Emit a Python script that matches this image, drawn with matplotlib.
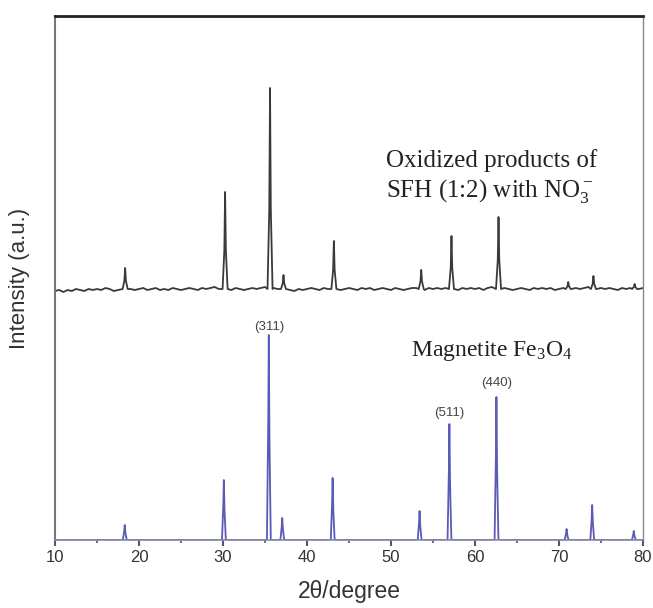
import numpy as np
import matplotlib
matplotlib.use("Agg")
import matplotlib.pyplot as plt

plt.rcParams['font.family'] = ['Liberation Sans', 'DejaVu Sans']
plt.rcParams['mathtext.fontset'] = 'custom'
plt.rcParams['mathtext.rm'] = 'Liberation Serif'
plt.rcParams['mathtext.it'] = 'Liberation Serif:italic'

# ---------------- data ----------------
# measured pattern (oxidized products), baseline level and noise read every 0.5 deg
sample_base_level = 251
sample_base_x = [10 + 0.5 * i for i in range(141)]
sample_base_noise = [
    -2, -1, -3, -1, -2, 0, -1, -2, 0, -1,
    0, -1, 1, 0, -2, -1, 0, 1, 0, -1,
    0, 1, -1, 0, 1, -1, 0, -1, 1, 0,
    -1, 0, 1, 0, -1, 1, 0, 1, 2, 0,
    1, 0, -1, 1, 0, -1, 0, 1, 0, 1,
    2, 3, 1, 0, -1, 0, -1, -2, 0, -1,
    0, 1, 0, -1, 1, 0, 1, 0, -1, 0,
    1, 0, -1, 1, 0, 1, -1, 0, 1, 0,
    -1, 1, 0, -1, 0, 1, 1, 0, -1, 1,
    0, 1, 0, 1, 0, 0, -1, 1, 0, 1,
    0, 1, -1, 1, 2, 1, 0, 1, 0, -1,
    0, 1, 0, -1, 1, 0, 1, 0, 1, -1,
    0, 1, 2, 0, 1, 0, 1, 2, 1, 0,
    1, 0, 1, 0, -1, 1, 0, 1, 2, 0,
    1,
]
sample_peak_pos = [18.35, 30.25, 35.6, 37.2, 43.2, 53.6, 57.2, 62.8, 71.1, 74.1, 79.0]
sample_peak_top = [272, 348, 452, 265, 299, 270, 304, 323, 258, 264, 256]

# reference magnetite pattern
ref_peak_pos = [18.3, 30.1, 35.45, 37.05, 43.05, 53.4, 56.95, 62.55, 70.9, 73.95, 78.9]
ref_peak_height = [15, 60, 205, 22, 62, 29, 116, 143, 11, 35, 9]

hkl_labels = ['(311)', '(511)', '(440)']
hkl_pos = [35.45, 56.95, 62.55]
hkl_y = [213, 127, 157]

x_ticks = [10, 20, 30, 40, 50, 60, 70, 80]

# ---------------- build traces ----------------
hw = 0.3
bx, by = [], []
for x, n in zip(sample_base_x, sample_base_noise):
    if all(abs(x - p) > hw + 0.05 for p in sample_peak_pos):
        bx.append(x)
        by.append(sample_base_level + n)
for p, t in zip(sample_peak_pos, sample_peak_top):
    bx += [p - hw, p - 0.09, p, p + 0.09, p + hw]
    by += [sample_base_level, sample_base_level + 0.4 * (t - sample_base_level), t,
           sample_base_level + 0.4 * (t - sample_base_level), sample_base_level]
order = np.argsort(bx)
bx = np.array(bx)[order]
by = np.array(by)[order]

rx, ry = [10.0], [0.0]
for p, h in zip(ref_peak_pos, ref_peak_height):
    rx += [p - 0.22, p - 0.06, p, p + 0.08, p + 0.14, p + 0.24]
    ry += [0, 0.6 * h, h, 0.5 * h, 0.3 * h, 0]
rx.append(80.0)
ry.append(0.0)

# ---------------- figure ----------------
fig = plt.figure(figsize=(6.53, 6.08), dpi=100)
ax = fig.add_axes([55 / 653, 68 / 608, 588 / 653, 524 / 608])

ax.plot(bx, by, color='#3a3a3a', lw=1.3)
ax.plot(rx, ry, color='#5a5ab8', lw=1.3)

ax.set_xlim(10, 80)
ax.set_ylim(0, 524)
ax.set_xticks(x_ticks)
ax.set_xticks([15, 25, 35, 45, 55, 65, 75], minor=True)
ax.set_yticks([])
ax.tick_params(axis='x', which='major', direction='out', length=4, width=1.5,
               color='#555577', labelsize=12, labelcolor='#333333', pad=3)
ax.tick_params(axis='x', which='minor', direction='out', length=2, width=1.2,
               color='#555577')

ax.spines['top'].set_linewidth(2.0)
ax.spines['top'].set_color('#222222')
ax.spines['left'].set_linewidth(1.5)
ax.spines['left'].set_color('#777777')
ax.spines['right'].set_linewidth(1.0)
ax.spines['right'].set_color('#888888')
ax.spines['bottom'].set_linewidth(1.2)
ax.spines['bottom'].set_color('#8888aa')

ax.set_xlabel('2θ/degree', fontsize=16.5, color='#333333', labelpad=11)
ax.set_ylabel('Intensity (a.u.)', fontsize=16, color='#333333')
ax.yaxis.set_label_coords(-0.043, 0.5)

serif = ['Liberation Serif', 'DejaVu Serif']
ax.text(49.4, 373, 'Oxidized products of', fontsize=18, family=serif,
        ha='left', va='baseline', color='#222222')
ax.text(49.4, 343, 'SFH (1:2) with NO$_3^-$', fontsize=18, family=serif,
        ha='left', va='baseline', color='#222222')
ax.text(52.4, 184, 'Magnetite Fe$_3$O$_4$', fontsize=17, family=serif,
        ha='left', va='baseline', color='#222222')

for lab, px, py in zip(hkl_labels, hkl_pos, hkl_y):
    ax.text(px, py, lab, fontsize=9.5, ha='center', va='center', color='#444444')

fig.savefig('out.png', dpi=100)
